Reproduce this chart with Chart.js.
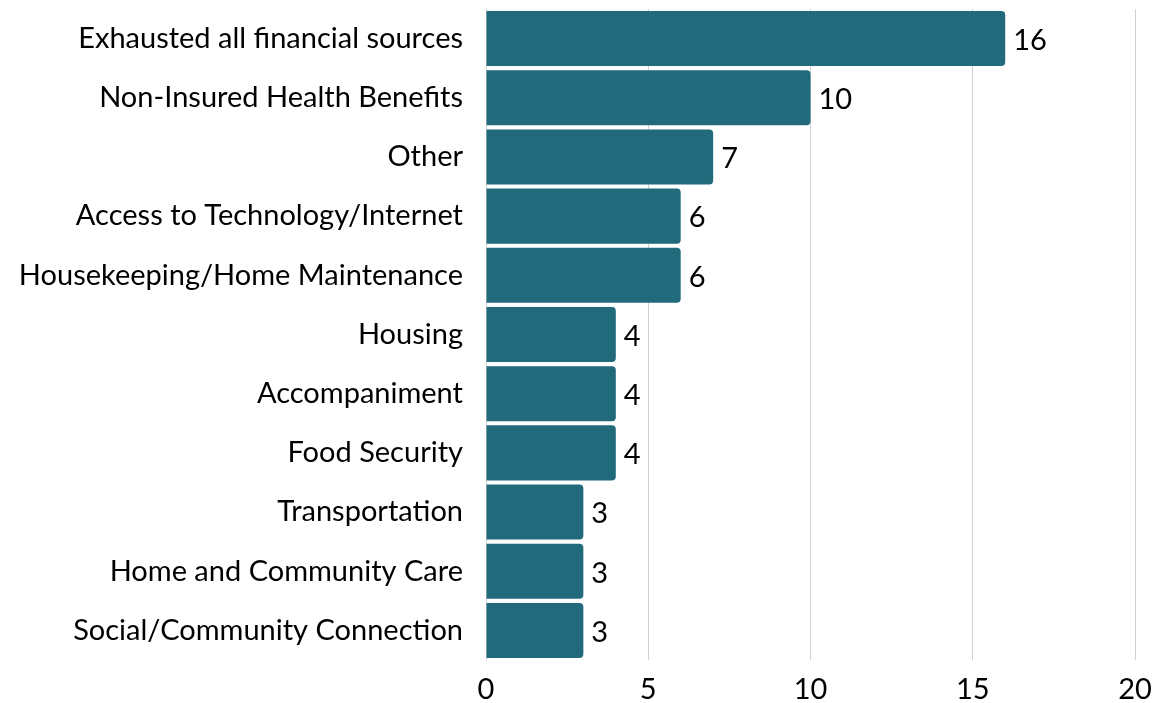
<!DOCTYPE html>
<html>
<head>
<meta charset="utf-8">
<script src="https://cdn.jsdelivr.net/npm/chart.js@4"></script>
<style>
  html, body { margin: 0; padding: 0; background: #fff; }
  #wrap { width: 1157px; height: 703px; }
</style>
</head>
<body>
<div id="wrap"><canvas id="chart"></canvas></div>
<script>
// Données
const categories = [
  'Exhausted all financial sources',
  'Non-Insured Health Benefits',
  'Other',
  'Access to Technology/Internet',
  'Housekeeping/Home Maintenance',
  'Housing',
  'Accompaniment',
  'Food Security',
  'Transportation',
  'Home and Community Care',
  'Social/Community Connection'
];
const counts = [16, 10, 7, 6, 6, 4, 4, 4, 3, 3, 3];
const xTicks = [0, 5, 10, 15, 20];

const FONT = 'Lato, "Open Sans", sans-serif';
const FONT_SIZE = 29;

// Étiquettes de valeur à droite des barres
const valueLabels = {
  id: 'valueLabels',
  afterDatasetsDraw(chart) {
    const { ctx } = chart;
    const meta = chart.getDatasetMeta(0);
    ctx.save();
    ctx.font = FONT_SIZE + 'px ' + FONT;
    ctx.fillStyle = '#000';
    ctx.textBaseline = 'middle';
    ctx.textAlign = 'left';
    meta.data.forEach((bar, i) => {
      ctx.fillText(String(counts[i]), bar.x + 8, bar.y + 2);
    });
    ctx.restore();
  }
};

const ctx = document.getElementById('chart').getContext('2d');
new Chart(ctx, {
  type: 'bar',
  data: {
    labels: categories,
    datasets: [{
      data: counts,
      backgroundColor: '#206A7C',
      borderRadius: 4,
      borderSkipped: 'start',
      barPercentage: 0.93,
      categoryPercentage: 1
    }]
  },
  options: {
    indexAxis: 'y',
    responsive: true,
    maintainAspectRatio: false,
    animation: false,
    layout: { padding: { top: 9, right: 22, bottom: 0, left: 0 } },
    plugins: { legend: { display: false }, tooltip: { enabled: false } },
    scales: {
      x: {
        min: 0, max: 20,
        afterBuildTicks: axis => { axis.ticks = xTicks.map(v => ({ value: v })); },
        afterFit: scale => { scale.height = 43; scale.paddingLeft = 0; scale.paddingRight = 0; },
        grid: { color: '#d0d0d0', lineWidth: 1, drawTicks: false },
        border: { display: false },
        ticks: { color: '#000', font: { family: FONT, size: FONT_SIZE }, padding: 12 }
      },
      y: {
        afterFit: scale => { scale.width = 486; scale.paddingTop = 0; scale.paddingBottom = 0; },
        grid: { display: false, drawTicks: false },
        border: { display: false },
        ticks: { color: '#000', font: { family: FONT, size: FONT_SIZE }, padding: 23 }
      }
    }
  },
  plugins: [valueLabels]
});
</script>
</body>
</html>
